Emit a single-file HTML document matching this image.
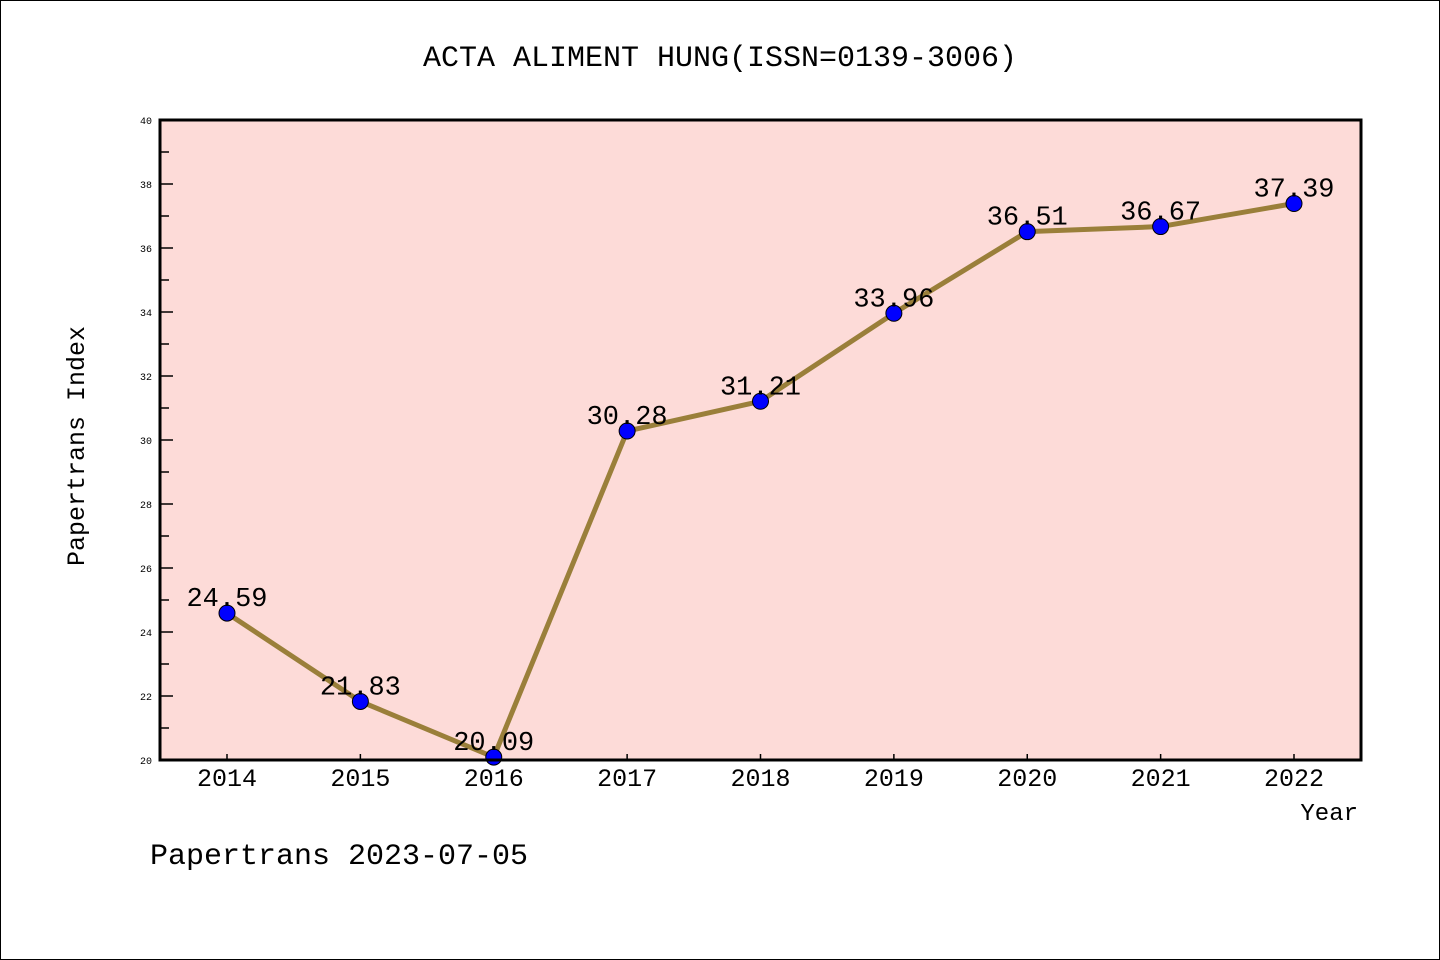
<!DOCTYPE html>
<html><head><meta charset="utf-8"><style>
html,body{margin:0;padding:0;background:#fff}
svg{display:block}
text{font-family:"Liberation Mono","WenQuanYi Zen Hei",monospace;fill:#000}
</style></head><body>
<svg id="chart" width="1440" height="960" viewBox="0 0 1440 960">
<rect x="0.5" y="0.5" width="1439" height="959" fill="#fff" stroke="#000"/>
<text x="720" y="66" text-anchor="middle" font-size="30">ACTA ALIMENT HUNG(ISSN=0139-3006)</text>
<rect x="160" y="120" width="1201" height="640" fill="#fddbd8"/>
<g id="yaxis"></g><g id="xaxis"></g><g id="series"></g>
<rect x="160" y="120" width="1201" height="640" fill="none" stroke="#000" stroke-width="3"/>
<text x="84" y="446" font-size="25" text-anchor="middle" transform="rotate(-90 84 446)">Papertrans Index</text>
<text x="1358" y="820" font-size="24" text-anchor="end">Year</text>
<text x="150" y="864" font-size="30">Papertrans 2023-07-05</text>
</svg>
<script>
const years = ["2014","2015","2016","2017","2018","2019","2020","2021","2022"];
const values = [24.59,21.83,20.09,30.28,31.21,33.96,36.51,36.67,37.39];
const valueLabels = ["24.59","21.83","20.09","30.28","31.21","33.96","36.51","36.67","37.39"];
const yTicks = [20,22,24,26,28,30,32,34,36,38,40];

(function(){
const NS="http://www.w3.org/2000/svg";
const yMin=20,yMax=40,pTop=120,pBot=760;
function y(v){return pBot-(v-yMin)/(yMax-yMin)*(pBot-pTop);}
function x(i){return 227+i*(1294-227)/(years.length-1);}
function mk(tag,attrs,parent){const e=document.createElementNS(NS,tag);for(const k in attrs)e.setAttribute(k,attrs[k]);parent.appendChild(e);return e;}
const ya=document.getElementById('yaxis'),xa=document.getElementById('xaxis'),se=document.getElementById('series');
for(let v=yMin;v<=yMax;v++){
  const major=yTicks.includes(v);
  const t=mk('line',{x1:160,x2:major?173:169,y1:y(v),y2:y(v),stroke:'#000','stroke-width':1.5},ya);
  
  
}
yTicks.forEach(v=>{
  const t=mk('text',{x:152,y:y(v)+4,'font-size':10,'text-anchor':'end'},ya);
  t.textContent=v;
  
  
});
years.forEach((yr,i)=>{
  const l=mk('line',{x1:x(i),x2:x(i),y1:pBot,y2:pBot-6,stroke:'#000','stroke-width':1.5},xa);
  
  
  const t=mk('text',{x:x(i),y:pBot+26,'font-size':25,'text-anchor':'middle'},xa);
  t.textContent=yr;
  
  
});
const pl=mk('polyline',{points:values.map((v,i)=>x(i)+','+y(v)).join(' '),fill:'none',stroke:'#9a7f3a','stroke-width':5,'stroke-linejoin':'round'},se);


values.forEach((v,i)=>{
  const c=mk('circle',{cx:x(i),cy:y(v),r:8,fill:'#0000ff',stroke:'#000','stroke-width':1},se);
  
  
  const t=mk('text',{x:x(i),y:y(v)-7,'font-size':27,'text-anchor':'middle'},se);
  t.textContent=valueLabels[i];
  
  
});
})();
</script>
</body></html>
